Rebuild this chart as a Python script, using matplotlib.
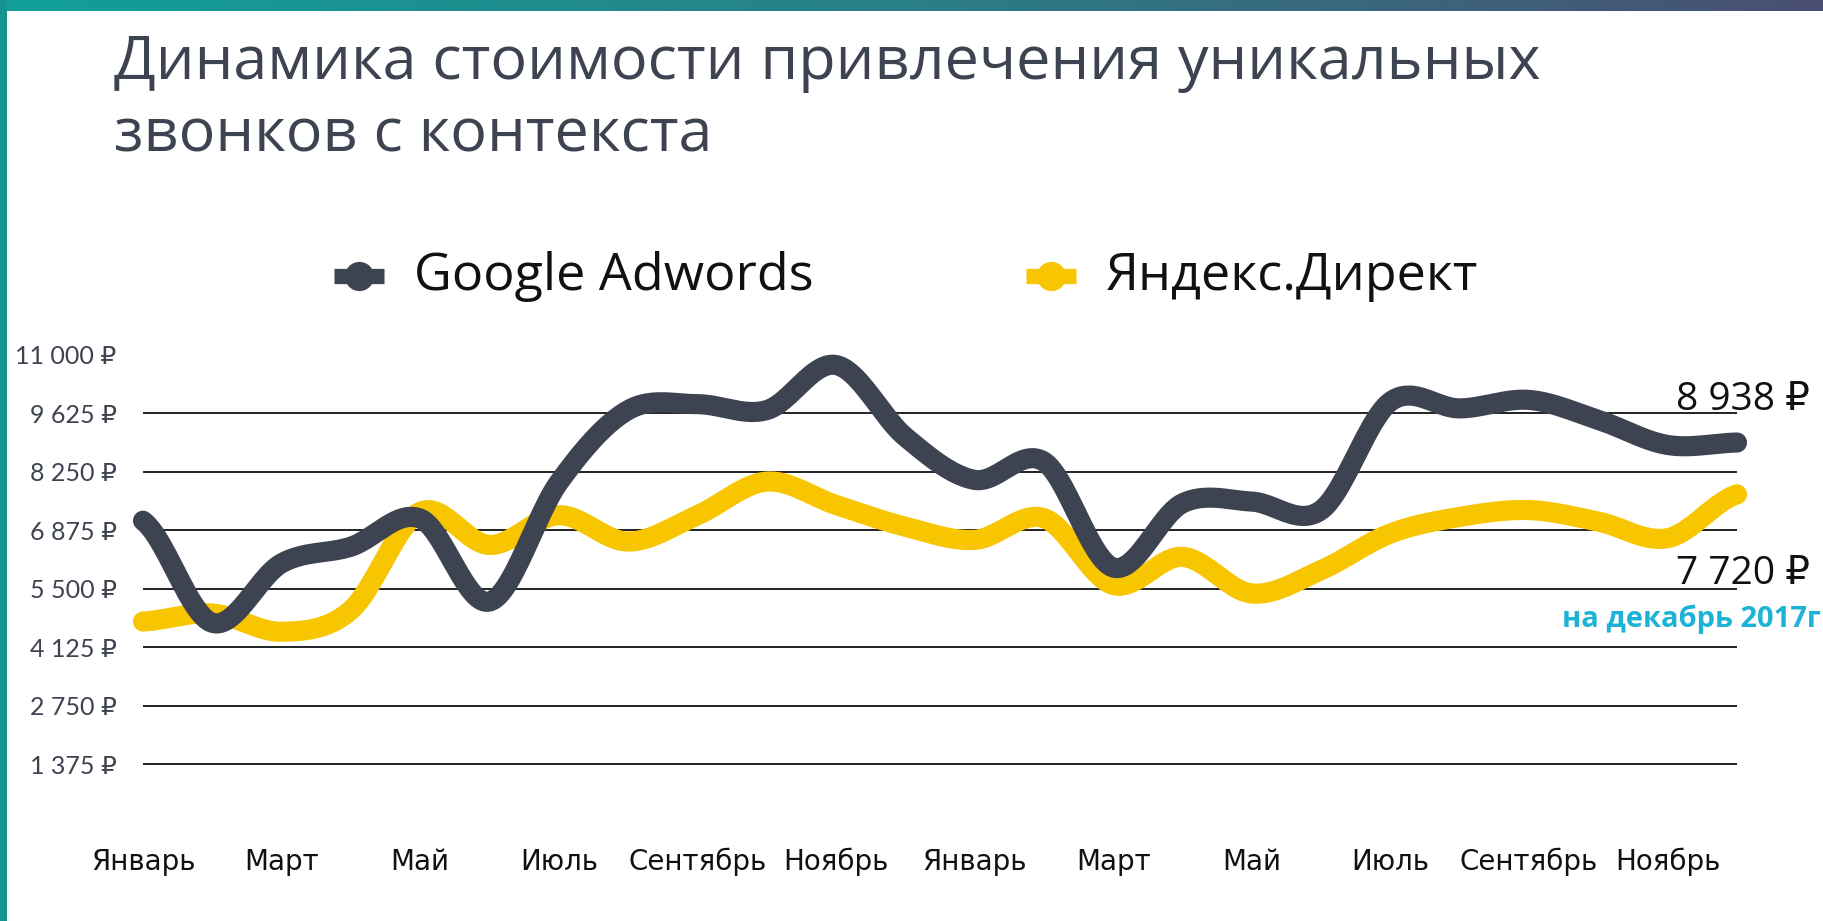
# Динамика стоимости звонков: Google Adwords vs Яндекс.Директ

import numpy as np
import matplotlib.pyplot as plt
from matplotlib.lines import Line2D
from matplotlib.patches import Rectangle
from matplotlib.colors import LinearSegmentedColormap

months = ['Январь', 'Март', 'Май', 'Июль', 'Сентябрь', 'Ноябрь'] * 2
google = [7100, 4700, 6100, 6490, 7150, 5200, 8000, 9700, 9840, 9700, 10760, 9070,
          8060, 8490, 6000, 7510, 7550, 7350, 9900, 9740, 9940, 9470, 8880, 8938]
yandex = [4730, 4920, 4490, 5000, 7310, 6530, 7230, 6610, 7230, 8020, 7470, 6960,
          6650, 7160, 5590, 6250, 5390, 5940, 6800, 7190, 7350, 7080, 6690, 7720]
yticks = [1375, 2750, 4125, 5500, 6875, 8250, 9625, 11000]
ylabels = ['1 375 ₽', '2 750 ₽', '4 125 ₽', '5 500 ₽', '6 875 ₽', '8 250 ₽', '9 625 ₽', '11 000 ₽']

DARK = '#3d4350'
YELLOW = '#f8c600'


def smooth(y, n=25):
    # catmull-rom through the monthly points
    y = np.asarray(y, float)
    p = np.concatenate([[y[0]], y, [y[-1]]])
    xs, ys = [], []
    t = np.linspace(0, 1, n, endpoint=False)
    for i in range(len(y) - 1):
        p0, p1, p2, p3 = p[i], p[i + 1], p[i + 2], p[i + 3]
        ys.append(0.5 * (2 * p1 + (-p0 + p2) * t + (2 * p0 - 5 * p1 + 4 * p2 - p3) * t ** 2
                         + (-p0 + 3 * p1 - 3 * p2 + p3) * t ** 3))
        xs.append(i + t)
    xs.append([len(y) - 1])
    ys.append([y[-1]])
    return np.concatenate(xs), np.concatenate(ys)


W, H = 1823, 921
fig = plt.figure(figsize=(W / 100, H / 100), dpi=100)
fig.patch.set_facecolor('white')

# frame decoration
band = fig.add_axes([0, 1 - 11 / H, 1, 11 / H])
cmap = LinearSegmentedColormap.from_list('band', ['#10a09a', '#2a7f86', '#4a4f72'])
band.imshow(np.linspace(0, 1, 256)[None, :], aspect='auto', cmap=cmap)
band.axis('off')
fig.add_artist(Rectangle((0, 0), 7 / W, 1, transform=fig.transFigure, color='#17938f', lw=0))

# title
fig.text(114 / W, 1 - 79 / H, 'Динамика стоимости привлечения уникальных',
         family=['Open Sans', 'DejaVu Sans'], fontsize=44, color=DARK, va='baseline')
fig.text(114 / W, 1 - 151 / H, 'звонков с контекста',
         family=['Open Sans', 'DejaVu Sans'], fontsize=44, color=DARK, va='baseline')

# legend
for x0, col, name in [(334, DARK, 'Google Adwords'), (1026, YELLOW, 'Яндекс.Директ')]:
    yy = 1 - 276 / H
    fig.add_artist(Line2D([x0 / W, (x0 + 50) / W], [yy, yy], transform=fig.transFigure,
                          color=col, lw=11, solid_capstyle='butt'))
    fig.add_artist(Line2D([(x0 + 25) / W], [yy], transform=fig.transFigure,
                          marker='o', ms=20, color=col))
    fig.text((x0 + 80) / W, yy, name, family=['Open Sans', 'DejaVu Sans'],
             fontsize=37.5, color='#111111', va='center')

ax = fig.add_axes([143 / W, (H - 822.8) / H, 1594 / W, 468 / H])
ax.set_xlim(0, 23)
ax.set_ylim(0, 11000)
for s in ax.spines.values():
    s.set_visible(False)

ax.hlines(yticks[:-1], 0, 23, color='#111111', lw=1.3, zorder=1)

x, y = smooth(yandex)
ax.plot(x, y, color=YELLOW, lw=14.5, solid_capstyle='round', zorder=3, clip_on=False)
x, y = smooth(google)
ax.plot(x, y, color=DARK, lw=14.5, solid_capstyle='round', zorder=4, clip_on=False)

ax.set_yticks(yticks)
ax.set_yticklabels(ylabels, family=['Lato', 'DejaVu Sans'], fontsize=18, color='#3d4350')
ax.set_xticks(range(0, 24, 2))
ax.set_xticklabels(months, family=['Liberation Sans Narrow', 'DejaVu Sans'], fontsize=20,
                   color='#111111')
ax.tick_params(axis='y', length=0, pad=19)
ax.tick_params(axis='x', length=0, pad=18)

# end labels
ax.annotate('8 938 ₽', xy=(1810 / W, 1 - 410 / H), xycoords='figure fraction',
            ha='right', va='baseline', fontsize=28, color='#111111',
            family=['Open Sans', 'DejaVu Sans'])
ax.annotate('7 720 ₽', xy=(1810 / W, 1 - 584 / H), xycoords='figure fraction',
            ha='right', va='baseline', fontsize=28, color='#111111',
            family=['Open Sans', 'DejaVu Sans'])
ax.annotate('на декабрь 2017г', xy=(1821 / W, 1 - 627 / H), xycoords='figure fraction',
            ha='right', va='baseline', fontsize=21, color='#1db3d6', fontweight='bold',
            family=['Open Sans', 'DejaVu Sans'])

fig.savefig('out.png', dpi=100)
